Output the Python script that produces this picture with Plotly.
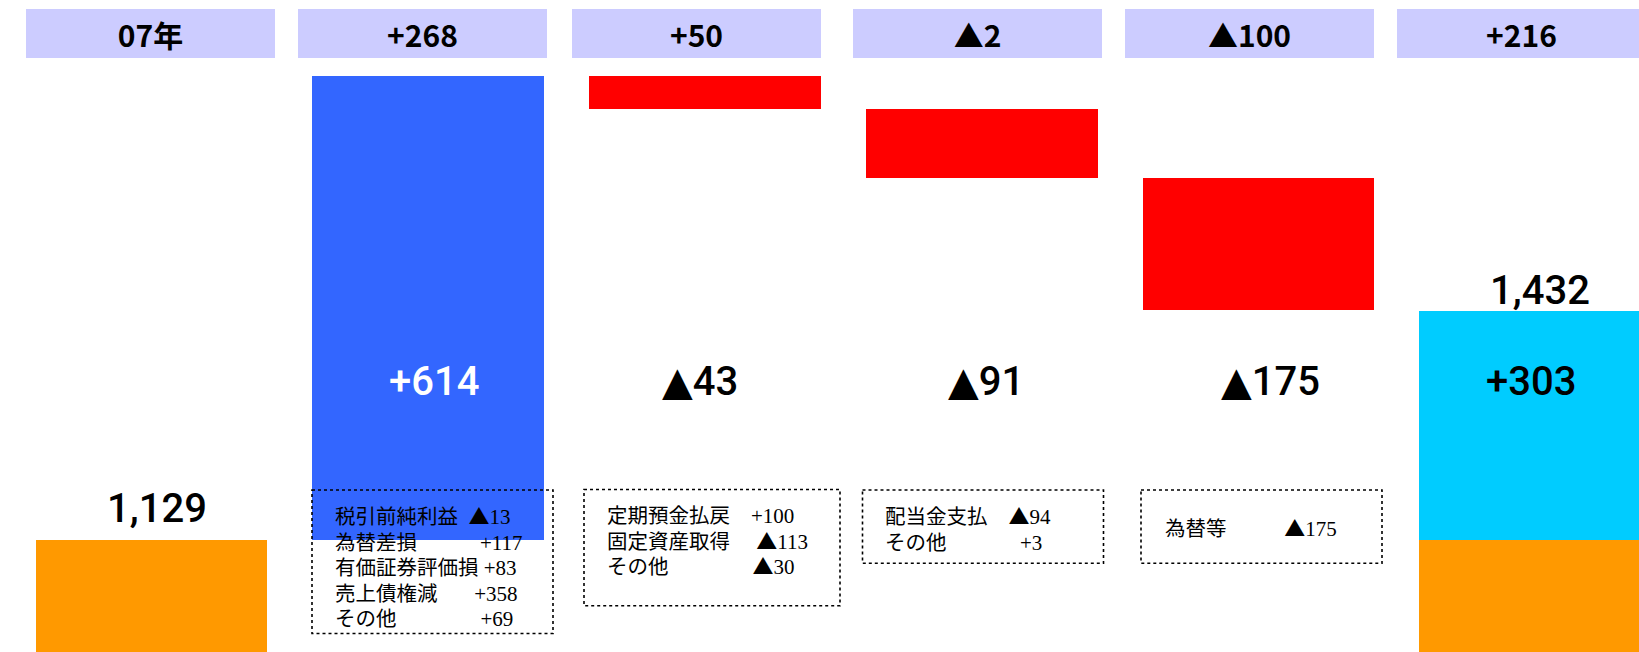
import plotly.graph_objects as go

# ---------------- data ----------------
categories = ["07年", "営業CF", "投資CF", "財務CF", "為替等", "08年"]
start_cash = 1129
flows = [614, -43, -91, -175]
end_cash = 1432
header_labels = ["07年", "+268", "+50", "▲2", "▲100", "+216"]

op_items = ["税引前純利益", "為替差損", "有価証券評価損", "売上債権減", "その他"]
op_values = ["▲13", "+117", "+83", "+358", "+69"]
inv_items = ["定期預金払戻", "固定資産取得", "その他"]
inv_values = ["+100", "▲113", "▲30"]
fin_items = ["配当金支払", "その他"]
fin_values = ["▲94", "+3"]
fx_items = ["為替等"]
fx_values = ["▲175"]

# ---------------- styles / layout constants ----------------
W, H = 1639, 652
C_TOTAL = "#FF9900"
C_UP = "#3366FF"
C_DOWN = "#FF0000"
C_END = "#00CCFF"
C_HEAD = "#CCCCFF"
BIG = "Roboto, Liberation Sans, sans-serif"
HEAD = "Noto Sans CJK JP, sans-serif"
JP = "Noto Sans CJK JP, sans-serif"
SERIF = "Liberation Serif, Times New Roman, serif"
BIG_SIZE = 40
BAR_W = 0.838
X_RANGE = [-0.5474, 5.3749]
Y_RANGE = [980.6, 1844.3]
JP_SIZE = 20.5      # px, CJK glyphs are 1em wide
SERIF_SIZE = 21
NBSP_W = 0.25 * SERIF_SIZE


def fmt_change(v):
    return ("+" if v >= 0 else "▲") + f"{abs(v):,}"


def big_html(t):
    if t.startswith("▲"):
        return "<span style='font-family:DejaVu Sans'>▲</span>" + t[1:]
    return t


# ---------------- bars ----------------
xs = list(range(len(categories)))
level = start_cash
flow_base, flow_len, flow_col = [], [], []
for v in flows:
    if v >= 0:
        flow_base.append(level)
        flow_len.append(v)
        flow_col.append(C_UP)
    else:
        flow_base.append(level + v)
        flow_len.append(-v)
        flow_col.append(C_DOWN)
    level += v
end_increase = end_cash - start_cash

fig = go.Figure()
fig.add_trace(go.Bar(x=[xs[0], xs[5]], y=[start_cash, start_cash], base=[0, 0],
                     marker=dict(color=C_TOTAL, line=dict(width=0)), width=BAR_W,
                     hovertext=[categories[0], categories[5]], name="期首"))
fig.add_trace(go.Bar(x=xs[1:5], y=flow_len, base=flow_base,
                     marker=dict(color=flow_col, line=dict(width=0)), width=BAR_W,
                     hovertext=categories[1:5], name="増減"))
fig.add_trace(go.Bar(x=[xs[5]], y=[end_increase], base=[start_cash],
                     marker=dict(color=C_END, line=dict(width=0)), width=BAR_W,
                     hovertext=[categories[5]], name="増加"))

annotations = []
shapes = []

# header boxes
head_shift = [-1, -6, -8, -4, -9, -14]
for i, t in enumerate(header_labels):
    annotations.append(dict(
        x=xs[i], xref="x", y=1 - 33.3 / H, yref="paper", xshift=head_shift[i],
        text="<b>" + t + "</b>", showarrow=False, xanchor="center", yanchor="middle",
        bgcolor=C_HEAD, width=249, height=49, borderpad=0, borderwidth=0,
        font=dict(family=HEAD, size=30, color="black")))

# value labels
mid_y = 1 - 382 / H
change_texts = [fmt_change(v) for v in flows] + [fmt_change(end_increase)]
change_shift = [6, -5, 4, 12, -4]
change_colors = ["white", "black", "black", "black", "black"]
for k, t in enumerate(change_texts):
    annotations.append(dict(
        x=xs[k + 1], xref="x", y=mid_y, yref="paper", xshift=change_shift[k],
        text=big_html(t), showarrow=False, xanchor="center", yanchor="middle",
        font=dict(family=BIG, size=BIG_SIZE, color=change_colors[k], weight=500)))

annotations.append(dict(x=xs[0], xref="x", y=start_cash, yref="y", xshift=5.5, yshift=31,
                        text=f"{start_cash:,}", showarrow=False, yanchor="middle",
                        font=dict(family=BIG, size=BIG_SIZE, color="black", weight=500)))
annotations.append(dict(x=xs[5], xref="x", y=end_cash, yref="y", xshift=4.5, yshift=21,
                        text=f"{end_cash:,}", showarrow=False, yanchor="middle",
                        font=dict(family=BIG, size=BIG_SIZE, color="black", weight=500)))

# breakdown boxes (pixel geometry)
boxes = [
    dict(rect=(312, 490, 553, 633.5), lx=334, yc=566.2,
         vx=[468.6, 481, 482, 474, 477.5], items=op_items, vals=op_values),
    dict(rect=(584, 489.5, 840, 605.7), lx=606, yc=539.0,
         vx=[750.7, 754, 754], items=inv_items, vals=inv_values),
    dict(rect=(862.5, 490, 1103.5, 563.3), lx=884, yc=528.0,
         vx=[1007, 1018], items=fin_items, vals=fin_values),
    dict(rect=(1141, 490, 1382, 563.3), lx=1163.6, yc=527.3,
         vx=[1285], items=fx_items, vals=fx_values),
]


def value_html(v):
    if v.startswith("▲"):
        return ("<span style='font-family:Noto Sans CJK JP'>▲</span>" + v[1:])
    return v


for b in boxes:
    x0, y0, x1, y1 = b["rect"]
    shapes.append(dict(type="rect", xref="paper", yref="paper",
                       x0=x0 / W, x1=x1 / W, y0=1 - y0 / H, y1=1 - y1 / H,
                       line=dict(color="black", width=1.6, dash="dot"),
                       fillcolor="rgba(0,0,0,0)", layer="above"))
    lines = []
    for it, vv, vx in zip(b["items"], b["vals"], b["vx"]):
        gap = vx - (b["lx"] + len(it) * JP_SIZE)
        n = max(1, int(round(gap / NBSP_W)))
        lines.append(
            f"<span style='font-family:{JP};font-size:{JP_SIZE}px'>{it}</span>"
            f"<span style='font-family:{SERIF};font-size:{SERIF_SIZE}px'>"
            + "&nbsp;" * n + value_html(vv) + "</span>")
    annotations.append(dict(x=b["lx"] / W, xref="paper", y=1 - b["yc"] / H, yref="paper",
                            text="<br>".join(lines), showarrow=False, align="left",
                            xanchor="left", yanchor="middle", borderpad=0,
                            font=dict(family=JP, size=19.7, color="black")))

fig.update_layout(
    width=W, height=H, margin=dict(l=0, r=0, t=0, b=0, pad=0),
    paper_bgcolor="white", plot_bgcolor="white",
    showlegend=False, barmode="overlay", bargap=0,
    xaxis=dict(range=X_RANGE, visible=False, fixedrange=True),
    yaxis=dict(range=Y_RANGE, visible=False, fixedrange=True),
    annotations=annotations, shapes=shapes,
)

fig.write_html("out.html", config={"displayModeBar": False},
               post_script="document.body.style.margin='0';document.body.style.overflow='hidden';")
